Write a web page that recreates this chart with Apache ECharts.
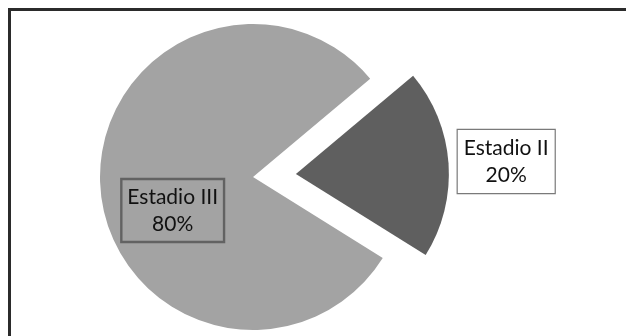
<!DOCTYPE html>
<html>
<head>
<meta charset="utf-8">
<script src="https://cdn.jsdelivr.net/npm/echarts@6/dist/echarts.min.js"></script>
<style>
  html, body { margin: 0; padding: 0; background: #fff; }
  #main { width: 626px; height: 336px; }
</style>
</head>
<body>
<div id="main"></div>
<script>
// datos del grafico
var categories = ['Estadio II', 'Estadio III'];
var values = [20, 80];
var colors = ['#5f5f5f', '#a3a3a3'];

var chart = echarts.init(document.getElementById('main'), null, { renderer: 'canvas' });

// estilo de cada etiqueta (caja con borde)
var labelStyles = [
  { backgroundColor: '#ffffff', borderColor: '#7a7a7a' },
  { backgroundColor: 'transparent', borderColor: '#626262' }
];
// desplazamiento de las etiquetas respecto a su posicion "inside"
var labelShift = [[131, -7], [-1, 28]];

var data = categories.map(function (name, i) {
  return {
    name: name,
    value: values[i],
    selected: i === 0, // la porcion "Estadio II" va separada
    itemStyle: { color: colors[i] },
    select: { itemStyle: { color: colors[i], borderWidth: 0 } },
    label: {
      backgroundColor: labelStyles[i].backgroundColor,
      borderColor: labelStyles[i].borderColor
    }
  };
});

var option = {
  backgroundColor: '#ffffff',
  animation: false,
  graphic: [{
    type: 'rect',
    shape: { x: 9.5, y: 9.5, width: 700, height: 400 },
    style: { fill: 'none', stroke: '#2b2b2b', lineWidth: 3 },
    silent: true
  }],
  series: [{
    type: 'pie',
    center: [253, 177],
    radius: 153,
    startAngle: 40,
    clockwise: true,
    selectedMode: 'single',
    selectedOffset: 43,
    emphasis: { disabled: true },
    label: {
      show: true,
      position: 'inside',
      formatter: '{b}\n{d}%',
      fontFamily: 'Lato',
      fontSize: 21,
      lineHeight: 27,
      color: '#111111',
      borderWidth: 1.2,
      padding: [5, 6, 4, 6]
    },
    labelLine: { show: false },
    labelLayout: function (params) {
      var s = labelShift[params.dataIndex];
      return { dx: s[0], dy: s[1] };
    },
    data: data
  }]
};

chart.setOption(option);
</script>
</body>
</html>
